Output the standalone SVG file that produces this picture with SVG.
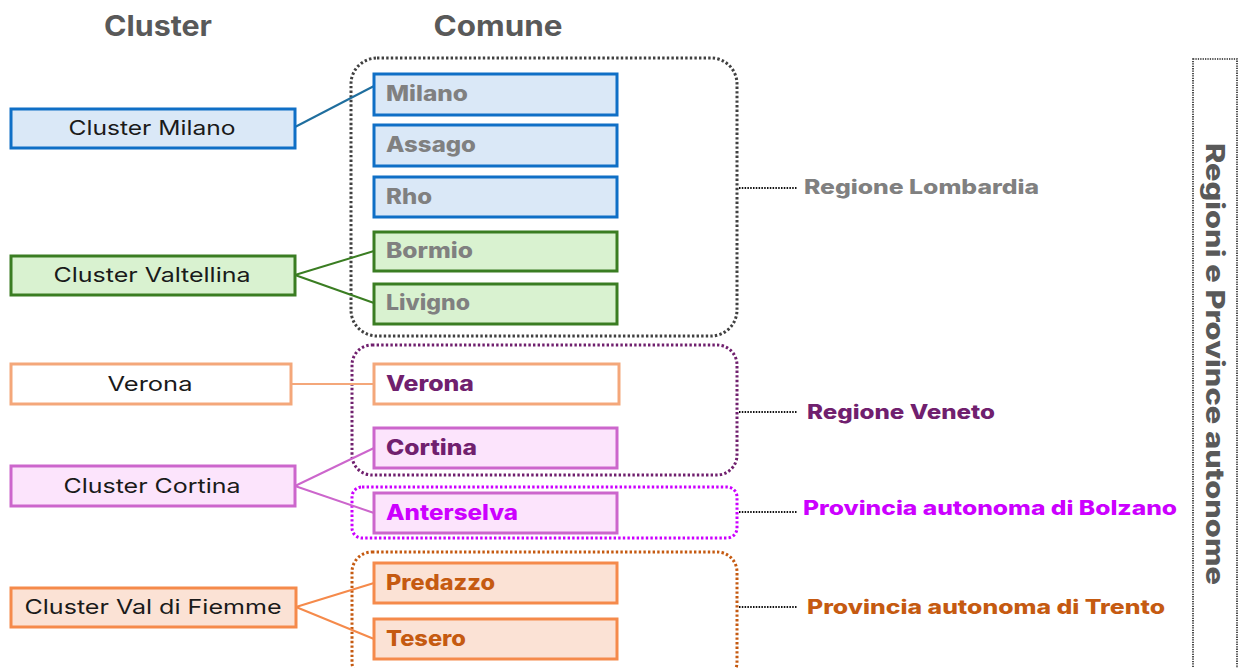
<svg xmlns="http://www.w3.org/2000/svg" width="1240" height="668" viewBox="0 0 1240 668">
<style>
text{font-family:Inter,"Open Sans","Liberation Sans",sans-serif}
.hdr{font-size:28px;font-weight:700;fill:#595959;text-anchor:middle}
.cl{font-size:20px;font-weight:400;fill:#1a1a1a;text-anchor:middle}
.cm{font-size:21px;font-weight:800}
.lb{font-size:20px;font-weight:800}
.box{stroke-width:3}
.blue{fill:#DAE8F7;stroke:#0F6FC6}
.green{fill:#D9F2D0;stroke:#3A7D22}
.orw{fill:#FFFFFF;stroke:#F4A77A}
.pink{fill:#FCE4FC;stroke:#CC66CC}
.peach{fill:#FBE2D5;stroke:#F58A4B}
.grp{fill:none;stroke-width:3;stroke-dasharray:2.4 2.2}
.lead{fill:none;stroke:#111;stroke-width:2;stroke-dasharray:1.5 1.3}
.gray{fill:#808080}
.vio{fill:#70206E}
.mag{fill:#CC00FF}
.rust{fill:#C55A11}
</style>

<g id="headers">
<text class="hdr" x="158" y="36" textLength="108" lengthAdjust="spacingAndGlyphs">Cluster</text>
<text class="hdr" x="498" y="36" textLength="129" lengthAdjust="spacingAndGlyphs">Comune</text>
</g>

<g id="groups">
<rect id="g-lombardia" class="grp" x="351" y="58" width="386" height="278" rx="26" stroke="#404040"/>
<rect id="g-veneto" class="grp" x="352" y="345" width="385" height="130" rx="20" stroke="#70206E"/>
<rect id="g-bolzano" class="grp" x="352" y="487" width="385" height="51" rx="10" stroke="#CC00FF"/>
<rect id="g-trento" class="grp" x="352" y="552" width="385" height="130" rx="20" stroke="#C55A11"/>
</g>

<g id="connectors" fill="none" stroke-width="2">
<line x1="295" y1="127" x2="374" y2="86" stroke="#1F6E9E"/>
<line x1="295" y1="275" x2="374" y2="251" stroke="#3A7D22"/>
<line x1="295" y1="275" x2="374" y2="303" stroke="#3A7D22"/>
<line x1="291" y1="384" x2="374" y2="384" stroke="#F4A77A"/>
<line x1="295" y1="486" x2="374" y2="448" stroke="#CC66CC"/>
<line x1="295" y1="486" x2="374" y2="513" stroke="#CC66CC"/>
<line x1="296" y1="607" x2="374" y2="583" stroke="#F58A4B"/>
<line x1="296" y1="607" x2="374" y2="639" stroke="#F58A4B"/>
<line class="lead" x1="739" y1="188" x2="797" y2="188"/>
<line class="lead" x1="739" y1="412" x2="797" y2="412"/>
<line class="lead" x1="739" y1="512" x2="797" y2="512"/>
<line class="lead" x1="739" y1="607" x2="797" y2="607"/>
</g>

<g id="cluster-milano"><rect class="box blue" x="11" y="109" width="284" height="39"/><text class="cl" x="152" y="135" textLength="167" lengthAdjust="spacingAndGlyphs">Cluster Milano</text></g>
<g id="cluster-valtellina"><rect class="box green" x="11" y="256" width="284" height="39"/><text class="cl" x="152" y="282" textLength="197" lengthAdjust="spacingAndGlyphs">Cluster Valtellina</text></g>
<g id="cluster-verona"><rect class="box orw" x="11" y="364" width="280" height="40"/><text class="cl" x="150" y="391" textLength="85" lengthAdjust="spacingAndGlyphs">Verona</text></g>
<g id="cluster-cortina"><rect class="box pink" x="11" y="466" width="284" height="40"/><text class="cl" x="152" y="493" textLength="177" lengthAdjust="spacingAndGlyphs">Cluster Cortina</text></g>
<g id="cluster-fiemme"><rect class="box peach" x="11" y="588" width="285" height="39"/><text class="cl" x="153" y="614" textLength="257" lengthAdjust="spacingAndGlyphs">Cluster Val di Fiemme</text></g>

<g id="c-milano"><rect class="box blue" x="374" y="74" width="243" height="41"/><text class="cm gray" x="386" y="101" textLength="82" lengthAdjust="spacingAndGlyphs">Milano</text></g>
<g id="c-assago"><rect class="box blue" x="374" y="125" width="243" height="41"/><text class="cm gray" x="386" y="152" textLength="90" lengthAdjust="spacingAndGlyphs">Assago</text></g>
<g id="c-rho"><rect class="box blue" x="374" y="177" width="243" height="40"/><text class="cm gray" x="386" y="204" textLength="46" lengthAdjust="spacingAndGlyphs">Rho</text></g>
<g id="c-bormio"><rect class="box green" x="374" y="232" width="243" height="39"/><text class="cm gray" x="386" y="258" textLength="87" lengthAdjust="spacingAndGlyphs">Bormio</text></g>
<g id="c-livigno"><rect class="box green" x="374" y="284" width="243" height="40"/><text class="cm gray" x="386" y="310" textLength="84" lengthAdjust="spacingAndGlyphs">Livigno</text></g>
<g id="c-verona"><rect class="box orw" x="374" y="364" width="245" height="40"/><text class="cm vio" x="386" y="391" textLength="88" lengthAdjust="spacingAndGlyphs">Verona</text></g>
<g id="c-cortina"><rect class="box pink" x="374" y="428" width="243" height="40"/><text class="cm vio" x="386" y="455" textLength="91" lengthAdjust="spacingAndGlyphs">Cortina</text></g>
<g id="c-anterselva"><rect class="box pink" x="374" y="493" width="243" height="40"/><text class="cm mag" x="386" y="520" textLength="132" lengthAdjust="spacingAndGlyphs">Anterselva</text></g>
<g id="c-predazzo"><rect class="box peach" x="374" y="563" width="243" height="40"/><text class="cm rust" x="386" y="590" textLength="109" lengthAdjust="spacingAndGlyphs">Predazzo</text></g>
<g id="c-tesero"><rect class="box peach" x="374" y="619" width="243" height="40"/><text class="cm rust" x="386" y="646" textLength="80" lengthAdjust="spacingAndGlyphs">Tesero</text></g>

<g id="l-lombardia"><text class="lb gray" x="804" y="194" textLength="235" lengthAdjust="spacingAndGlyphs">Regione Lombardia</text></g>
<g id="l-veneto"><text class="lb vio" x="807" y="419" textLength="188" lengthAdjust="spacingAndGlyphs">Regione Veneto</text></g>
<g id="l-bolzano"><text class="lb mag" x="803" y="515" textLength="374" lengthAdjust="spacingAndGlyphs">Provincia autonoma di Bolzano</text></g>
<g id="l-trento"><text class="lb rust" x="807" y="614" textLength="358" lengthAdjust="spacingAndGlyphs">Provincia autonoma di Trento</text></g>

<g id="side-panel">
<rect x="1193" y="59" width="44" height="620" fill="none" stroke="#222" stroke-width="1.6" stroke-dasharray="1.3 1.1"/>
<text transform="translate(1206,364) rotate(90)" text-anchor="middle" font-size="26" font-weight="800" fill="#595959" textLength="442" lengthAdjust="spacingAndGlyphs">Regioni e Province autonome</text>
</g>
</svg>
